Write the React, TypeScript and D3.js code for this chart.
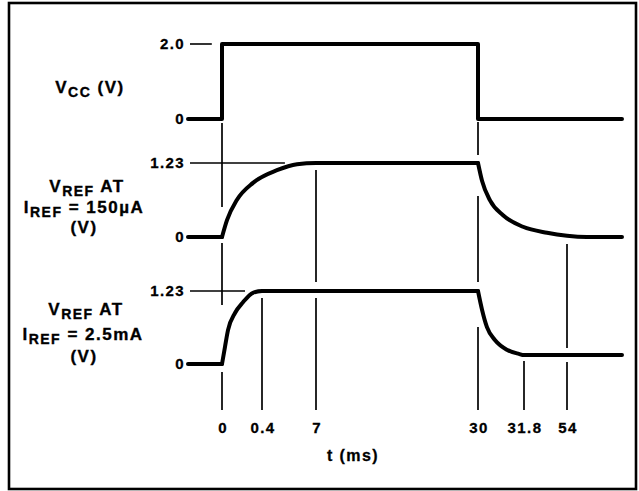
import React from 'react';
import * as d3 from 'd3';

// time axis (schematic, not to scale)
const xTicks = [0, 0.4, 7, 30, 31.8, 54];
const xTickLabels = ['0', '0.4', '7', '30', '31.8', '54'];
const tStart = -4;
const tEnd = 64;

// V_CC step
const vccTrace = [[-4, 0], [0, 0], [0, 2], [30, 2], [30, 0], [64, 0]];

// V_REF at 150uA
const ref150Lead = [[-4, 0], [0, 0]];
const ref150Rise = [[0, 0], [0.05, 0.28], [0.15, 0.62], [0.31, 0.9], [2.23, 1.11], [4.68, 1.21], [7, 1.23], [30, 1.23]];
const ref150Fall = [[30, 1.23], [30.16, 0.93], [30.47, 0.61], [30.98, 0.36], [31.76, 0.17], [43.7, 0.07], [54, 0.02], [57.6, 0], [64, 0]];

// V_REF at 2.5mA
const ref25Lead = [[-4, 0], [0, 0]];
const ref25Rise = [[0, 0], [0.03, 0.29], [0.06, 0.57], [0.13, 0.86], [0.21, 1.04], [0.31, 1.2], [0.4, 1.23], [30, 1.23]];
const ref25Fall = [[30, 1.23], [30.16, 0.91], [30.35, 0.62], [30.67, 0.4], [31.13, 0.24], [31.6, 0.17], [31.8, 0.15], [64, 0.15]];

const vccTicks = [0, 2.0];
const vccTickLabels = ['0', '2.0'];
const refTicks = [0, 1.23];
const refTickLabels = ['0', '1.23'];

const W = 639;
const H = 491;
const axisBottom = 410;
const font = '"Liberation Sans", Arial, Helvetica, sans-serif';

const x = d3.scaleLinear()
  .domain([tStart, ...xTicks, tEnd])
  .range([188, 222, 262, 316, 478, 524, 567, 622]);

const yScales = [
  d3.scaleLinear().domain([0, 2]).range([119, 44]),
  d3.scaleLinear().domain([0, 1.23]).range([237, 163]),
  d3.scaleLinear().domain([0, 1.23]).range([364, 291]),
];

// thin level markers: [panel, value, end time]
const levelMarks = [[0, 2.0, -1.2], [1, 1.23, 3.2], [2, 1.23, 0.23]];

// vertical time markers, broken where they meet the traces
// each piece: [panel, value, px offset] -> [panel, value, px offset] (null = down to axis)
const guides = [
  { t: 0, pieces: [[[0, 0, 4], [1, 0.5, 0]], [[1, 0, 6], [2, 1.23, 14]], [[2, 0, 8], null]] },
  { t: 0.4, pieces: [[[2, 1.23, 7], null]] },
  { t: 7, pieces: [[[1, 1.23, 7], [2, 1.23, -9]], [[2, 1.23, 7], null]] },
  { t: 30, pieces: [[[0, 0, 3], [1, 1.23, -8]], [[1, 1.23, 33], [2, 1.23, -9]], [[2, 1.23, 36], null]] },
  { t: 31.8, pieces: [[[2, 0.15, 6], null]] },
  { t: 54, pieces: [[[1, 0, 7], [2, 0.15, -7]], [[2, 0.15, 7], null]] },
];

const App = () => {
  const mk = (p: number, curve: d3.CurveFactory) =>
    d3.line<number[]>().x((d) => x(d[0])).y((d) => yScales[p](d[1])).curve(curve);

  const traces = [
    mk(0, d3.curveLinear)(vccTrace as any),
    mk(1, d3.curveLinear)(ref150Lead as any),
    mk(1, d3.curveMonotoneX)(ref150Rise as any),
    mk(1, d3.curveMonotoneX)(ref150Fall as any),
    mk(2, d3.curveLinear)(ref25Lead as any),
    mk(2, d3.curveMonotoneX)(ref25Rise as any),
    mk(2, d3.curveMonotoneX)(ref25Fall as any),
  ];

  const endY = (e: any) => (e === null ? axisBottom : yScales[e[0]](e[1]) + e[2]);

  const tickText = { fontFamily: font, fontWeight: 700, fontSize: 15, letterSpacing: 1.4, stroke: '#000', strokeWidth: 0.3 } as const;
  const labelText = { fontFamily: font, fontWeight: 700, fontSize: 17, letterSpacing: 1.5, stroke: '#000', strokeWidth: 0.35 } as const;

  const panelTicks = [
    [vccTicks, vccTickLabels],
    [refTicks, refTickLabels],
    [refTicks, refTickLabels],
  ];

  const sub = (s: string) => <tspan dy={4} fontSize={14}>{s}</tspan>;

  return (
    <svg width={W} height={H} style={{ position: 'absolute', left: 0, top: 0, background: '#fff' }}>
      <rect x={9} y={3} width={627} height={486} fill="none" stroke="#000" strokeWidth={2.6} />

      {guides.map((g) =>
        g.pieces.map((pc, i) => (
          <line key={`${g.t}-${i}`} x1={x(g.t)} x2={x(g.t)} y1={endY(pc[0])} y2={endY(pc[1])}
            stroke="#000" strokeWidth={1.7} />
        ))
      )}

      {levelMarks.map(([p, v, t1], i) => (
        <line key={i} x1={x(tStart) + 2} x2={x(t1)} y1={yScales[p](v)} y2={yScales[p](v)}
          stroke="#000" strokeWidth={1.6} />
      ))}

      {traces.map((d, i) => (
        <path key={i} d={d || ''} fill="none" stroke="#000" strokeWidth={4}
          strokeLinecap="round" strokeLinejoin="round" />
      ))}

      {panelTicks.map(([vals, labs], p) =>
        (vals as number[]).map((v, i) => (
          <text key={`${p}-${i}`} x={185} y={yScales[p](v)} dy="0.36em" textAnchor="end" {...tickText}>
            {(labs as string[])[i]}
          </text>
        ))
      )}

      {xTicks.map((t, i) => (
        <text key={t} x={x(t) + 1} y={433} textAnchor="middle" {...tickText}>{xTickLabels[i]}</text>
      ))}
      <text x={353} y={461} textAnchor="middle" {...tickText} fontSize={16}>t (ms)</text>

      <text x={90} y={93} textAnchor="middle" {...labelText}>
        <tspan>V</tspan>{sub('CC')}<tspan dy={-4}> (V)</tspan>
      </text>

      <text x={87} y={192} textAnchor="middle" {...labelText}>
        <tspan>V</tspan>{sub('REF')}<tspan dy={-4}> AT</tspan>
      </text>
      <text x={84} y={213} textAnchor="middle" {...labelText}>
        <tspan>I</tspan>{sub('REF')}<tspan dy={-4}> = 150µA</tspan>
      </text>
      <text x={84} y={233} textAnchor="middle" {...labelText}>(V)</text>

      <text x={86} y={315} textAnchor="middle" {...labelText}>
        <tspan>V</tspan>{sub('REF')}<tspan dy={-4}> AT</tspan>
      </text>
      <text x={83} y={340} textAnchor="middle" {...labelText}>
        <tspan>I</tspan>{sub('REF')}<tspan dy={-4}> = 2.5mA</tspan>
      </text>
      <text x={84} y={362} textAnchor="middle" {...labelText}>(V)</text>
    </svg>
  );
};

export default App;
